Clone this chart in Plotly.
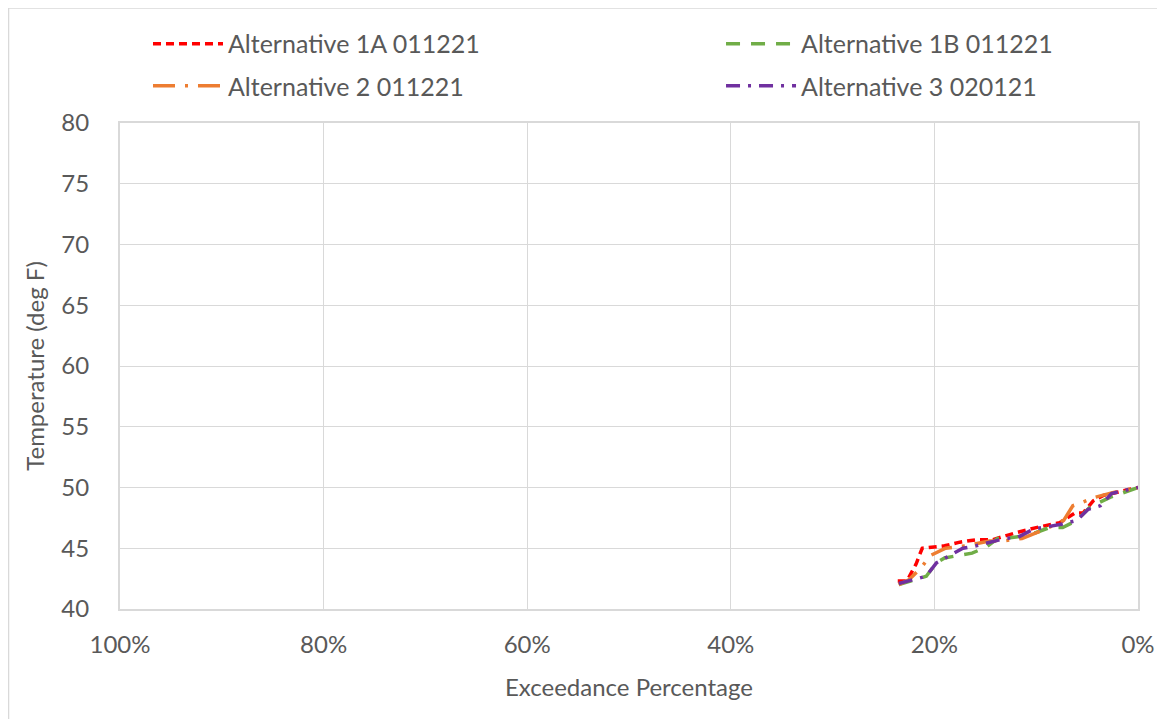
import plotly.graph_objects as go

# Exceedance (fraction) and temperature (deg F)
alt1a_x = [0.236, 0.227, 0.218, 0.212, 0.190, 0.175, 0.159, 0.143, 0.119, 0.100, 0.077, 0.062, 0.054, 0.044, 0.034, 0.0]
alt1a_y = [42.3, 42.3, 43.7, 45.0, 45.2, 45.5, 45.7, 45.7, 46.3, 46.7, 47.1, 47.9, 47.9, 48.9, 49.35, 50.0]

alt1b_x = [0.235, 0.220, 0.208, 0.198, 0.190, 0.177, 0.163, 0.149, 0.138, 0.133, 0.113, 0.100, 0.087, 0.074, 0.060, 0.047, 0.027, 0.0]
alt1b_y = [42.0, 42.4, 42.7, 43.8, 44.2, 44.4, 44.6, 45.1, 45.8, 45.8, 46.0, 46.3, 46.7, 46.7, 47.3, 48.4, 49.2, 50.0]

alt2_x = [0.235, 0.225, 0.213, 0.204, 0.189, 0.169, 0.146, 0.133, 0.114, 0.103, 0.090, 0.073, 0.064, 0.057, 0.042, 0.024, 0.0]
alt2_y = [42.0, 42.4, 43.4, 44.4, 45.0, 45.2, 45.6, 45.6, 45.8, 46.2, 46.6, 47.3, 48.5, 48.7, 49.2, 49.6, 50.0]

alt3_x = [0.235, 0.220, 0.208, 0.198, 0.185, 0.172, 0.159, 0.145, 0.131, 0.118, 0.102, 0.087, 0.074, 0.060, 0.049, 0.037, 0.026, 0.011, 0.0]
alt3_y = [42.1, 42.4, 42.7, 43.8, 44.4, 45.0, 45.2, 45.5, 45.8, 45.9, 46.6, 46.8, 47.0, 47.3, 48.2, 48.5, 49.5, 49.8, 50.0]

series_names = ["Alternative 1A 011221", "Alternative 1B 011221", "Alternative 2 011221", "Alternative 3 020121"]
series_colors = ["#FF0000", "#70AD47", "#ED7D31", "#7030A0"]
series_dash = ["8px,5px", "14px,11px", "22px,10px,3px,10px", "14px,8px,3px,8px"]
series_legend = ["legend", "legend2", "legend3", "legend4"]

x_tickvals = [1.0, 0.8, 0.6, 0.4, 0.2, 0.0]
x_ticktext = ["100%", "80%", "60%", "40%", "20%", "0%"]
y_tickvals = [40, 45, 50, 55, 60, 65, 70, 75, 80]

font_family = "Lato, Open Sans, sans-serif"
text_color = "#595959"
grid_color = "#D9D9D9"
fs = 24

fig = go.Figure()
for xs, ys, name, color, dash, lg in zip(
    [alt1a_x, alt1b_x, alt2_x, alt3_x],
    [alt1a_y, alt1b_y, alt2_y, alt3_y],
    series_names, series_colors, series_dash, series_legend,
):
    fig.add_trace(go.Scatter(
        x=xs, y=ys, mode="lines", name=name, legend=lg,
        line=dict(color=color, width=3.5, dash=dash),
    ))

def legend_box(xp, yp):
    return dict(
        x=xp, y=yp, xanchor="left", yanchor="middle",
        font=dict(family=font_family, size=25, color=text_color),
        itemwidth=70, bgcolor="rgba(0,0,0,0)", borderwidth=0,
    )

fig.update_layout(
    width=1157, height=711,
    margin=dict(l=112, r=27, t=115, b=110, autoexpand=False),
    paper_bgcolor="white", plot_bgcolor="white",
    font=dict(family=font_family, size=fs, color=text_color),
    showlegend=True,
    legend=legend_box(0.0275, 1.1626),
    legend2=legend_box(0.5904, 1.1626),
    legend3=legend_box(0.0275, 1.0761),
    legend4=legend_box(0.5904, 1.0761),
    xaxis=dict(
        range=[1.0, 0.0], tickvals=x_tickvals, ticktext=x_ticktext,
        showgrid=True, gridcolor=grid_color, gridwidth=1,
        showline=True, linecolor=grid_color, linewidth=2, mirror=True,
        zeroline=False, ticks="", ticklabelstandoff=13, automargin=False,
        title=dict(text="Exceedance Percentage", font=dict(size=fs, color=text_color), standoff=22),
        tickfont=dict(size=fs, color=text_color),
    ),
    yaxis=dict(
        range=[40, 80], tickvals=y_tickvals,
        showgrid=True, gridcolor=grid_color, gridwidth=1,
        showline=True, linecolor=grid_color, linewidth=2, mirror=True,
        zeroline=False, ticks="", ticklabelstandoff=24, automargin=False,
        title=dict(text="Temperature (deg F)", font=dict(size=fs, color=text_color), standoff=10),
        tickfont=dict(size=fs, color=text_color),
    ),
    shapes=[dict(
        type="rect", xref="paper", yref="paper",
        x0=-0.1095, x1=1.0255, y0=-0.30, y1=1.2366,
        line=dict(color="#D9D9D9", width=1.5), layer="below",
    )],
)

fig.write_html("out.html")
